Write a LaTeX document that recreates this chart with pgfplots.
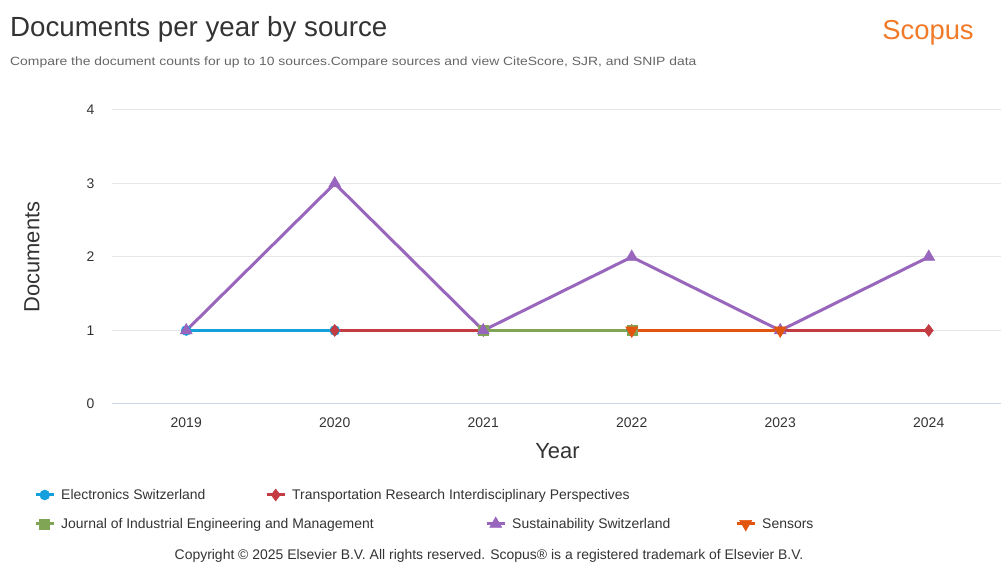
\documentclass[border=0pt]{standalone}
\usepackage{pgfplots}
\pgfplotsset{compat=1.18}
\usepackage{fontspec}
\setmainfont{Liberation Sans}
\definecolor{cblue}{RGB}{20,160,220}
\definecolor{cred}{RGB}{195,60,65}
\definecolor{cgreen}{RGB}{128,165,85}
\definecolor{cpurple}{RGB}{152,102,188}
\definecolor{corange}{RGB}{225,85,15}
\definecolor{scopus}{RGB}{240,122,40}
\definecolor{txt}{RGB}{51,51,51}
\definecolor{sub}{RGB}{102,102,102}
\definecolor{gridc}{RGB}{230,230,230}
\definecolor{axc}{RGB}{204,214,235}
\pgfplotsset{
  leg/.style={
    legend image code/.code={\draw[mark repeat=2,mark phase=2,##1] plot coordinates {(0bp,0bp) (9bp,0bp) (18bp,0bp)};},
    legend style={draw=none,fill=none,inner sep=0pt,
      font=\fontsize{14}{16}\selectfont,text=txt,
      nodes={inner xsep=0pt,inner ysep=1pt},
      /tikz/every odd column/.style={column sep=6bp}},
    legend cell align=left,
  }
}
\begin{document}
\begin{tikzpicture}
\useasboundingbox (0bp,0bp) rectangle (1001bp,567bp);
\node[anchor=west,text=txt,font=\fontsize{27.8}{31}\selectfont,inner sep=0pt] at (10bp,538bp) {Documents per year by source};
\node[anchor=west,text=sub,font=\fontsize{12}{14}\selectfont,inner sep=0pt] at (10bp,505bp) {\scalebox{1.163}[1]{Compare the document counts for up to 10 sources.Compare sources and view CiteScore, SJR, and SNIP data}};
\node[anchor=center,text=scopus,font=\fontsize{27.5}{31}\selectfont,inner sep=0pt] at (928bp,534bp) {Scopus};
\node[anchor=center,text=txt,font=\fontsize{14}{16}\selectfont,inner sep=0pt] at (489bp,11bp) {Copyright © 2025 Elsevier B.V. All rights reserved. Scopus® is a registered trademark of Elsevier B.V.};
\begin{axis}[leg,
  at={(112bp,163bp)},anchor=south west,
  scale only axis,width=891bp,height=294bp,
  xmin=2018.5,xmax=2024.5,ymin=0,ymax=4,
  xtick={2019,2020,2021,2022,2023,2024},
  ytick={1,2,3,4},
  extra y ticks={0},extra y tick style={grid style={axc,line width=1bp}},
  x tick label style={/pgf/number format/1000 sep={}},
  /pgf/number format/assume math mode=true,
  axis line style={draw=none},
  major tick length=0pt,
  ymajorgrids,grid style={gridc,line width=1bp},
  tick label style={font=\fontsize{14}{16}\selectfont,text=txt},
  xticklabel style={yshift=-10bp},
  yticklabel style={xshift=-14bp},
  xlabel={Year},ylabel={Documents},
  label style={font=\fontsize{22}{25}\selectfont,text=txt},
  xlabel style={at={(axis description cs:0.5,-0.16)},anchor=center},
  ylabel style={at={(axis description cs:-0.0898,0.5)},anchor=center},
  unbounded coords=jump,
  legend columns=2,
  legend style={at={(axis description cs:-0.0875,-0.3095)},anchor=west},
]
\addplot[cblue,line width=3bp,mark=*,mark size=5bp,mark options={line width=0.5bp}] coordinates {(2019,1) (2020,1) (2021,nan) (2022,1)};
\addlegendentry{\makebox[204bp][l]{Electronics Switzerland}}
\addplot[cred,line width=3bp,mark=diamond*,mark size=6bp,mark options={line width=0.5bp}] coordinates {(2020,1) (2021,1) (2022,1) (2023,1) (2024,1)};
\addlegendentry{Transportation Research Interdisciplinary Perspectives}
\addplot[cgreen,line width=3bp,mark=square*,mark size=5bp,mark options={line width=0.5bp},forget plot] coordinates {(2021,1) (2022,1)};
\addplot[cpurple,line width=3bp,mark=triangle*,mark size=7bp,mark options={line width=0.5bp},forget plot] coordinates {(2019,1) (2020,3) (2021,1) (2022,2) (2023,1) (2024,2)};
\addplot[corange,line width=3bp,mark=triangle*,mark size=7bp,mark options={rotate=180,line width=0.5bp},forget plot] coordinates {(2022,1) (2023,1)};
\end{axis}
\begin{axis}[leg,
  at={(112bp,163bp)},anchor=south west,
  scale only axis,width=891bp,height=294bp,
  xmin=0,xmax=1,ymin=0,ymax=1,hide axis,
  legend columns=3,
  legend style={at={(axis description cs:-0.0875,-0.408)},anchor=west},
]
\addlegendimage{cgreen,line width=3bp,mark=square*,mark size=5bp,mark options={line width=0.5bp}}
\addlegendentry{\makebox[424bp][l]{Journal of Industrial Engineering and Management}}
\addlegendimage{cpurple,line width=3bp,mark=triangle*,mark size=7bp,mark options={line width=0.5bp}}
\addlegendentry{\makebox[223bp][l]{Sustainability Switzerland}}
\addlegendimage{corange,line width=3bp,mark=triangle*,mark size=7bp,mark options={rotate=180,line width=0.5bp}}
\addlegendentry{Sensors}
\end{axis}
\end{tikzpicture}
\end{document}
